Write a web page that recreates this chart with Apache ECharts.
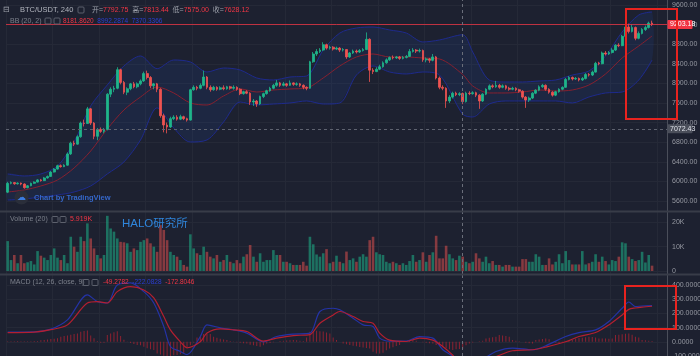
<!DOCTYPE html>
<html><head><meta charset="utf-8">
<script src="https://cdn.jsdelivr.net/npm/echarts/dist/echarts.min.js"></script>
<style>html,body{margin:0;padding:0;background:#1d2130;overflow:hidden}#c{width:700px;height:356px}</style>
</head><body><div id="c"></div>
<script>
// ---- data ----
// candles: [open, close, low, high]
const ohlc = [
[5780,5960,5760,5990],[5960,5975,5940,6000],[5975,5950,5930,5985],[5950,5965,5935,5980],[5965,5945,5920,5975],
[5945,5870,5850,5960],[5870,5910,5860,5925],[5910,5960,5900,5975],[5960,5985,5950,6000],[5985,6030,5975,6045],
[6030,6015,5995,6050],[6015,6070,6005,6090],[6070,6100,6055,6120],[6100,6190,6090,6210],[6190,6250,6180,6270],
[6250,6320,6240,6340],[6320,6300,6280,6345],[6300,6330,6290,6350],[6330,6560,6320,6590],[6560,6780,6540,6810],
[6780,6760,6720,6830],[6760,6910,6750,6940],[6910,7190,6890,7220],[7190,7180,7120,7260],[7180,7480,7170,7520],
[7480,7190,7150,7500],[7190,6920,6860,7210],[6920,7060,6840,7090],[7060,7020,6990,7100],[7020,7060,6980,7090],
[7060,7780,7040,7800],[7780,7880,7720,7920],[7880,7900,7820,7950],[7900,8280,7880,8330],[8280,8020,7980,8300],
[8020,7820,7780,8050],[7820,7890,7760,7920],[7890,7990,7860,8010],[7990,7930,7900,8030],[7930,7990,7900,8020],
[7990,8050,7960,8080],[8050,8200,8030,8240],[8200,8120,8080,8260],[8120,7950,7900,8150],[7950,7990,7880,8010],
[7990,7880,7820,8010],[7880,7340,7300,7900],[7340,7150,7000,7380],[7150,7110,6980,7200],[7110,7280,7090,7320],
[7280,7310,7250,7350],[7310,7270,7240,7350],[7270,7320,7250,7360],[7320,7280,7250,7340],[7280,7250,7220,7300],
[7250,7870,7240,7890],[7870,7920,7850,7960],[7920,7900,7860,7950],[7900,7960,7880,8000],[7960,8130,7940,8260],
[8130,7920,7880,8150],[7920,7870,7830,7960],[7870,7920,7850,7950],[7920,7880,7850,7940],[7880,7910,7860,7940],
[7910,7890,7860,7960],[7890,7930,7870,7950],[7930,7900,7870,7950],[7900,7920,7870,7960],[7920,7880,7850,7940],
[7880,7790,7760,7900],[7790,7830,7770,7850],[7830,7800,7780,7860],[7800,7620,7560,7820],[7620,7640,7540,7680],
[7640,7580,7520,7660],[7580,7730,7560,7750],[7730,7790,7700,7810],[7790,7850,7770,7870],[7850,7900,7830,7930],
[7900,7960,7880,7990],[7960,8010,7930,8070],[8010,7960,7930,8030],[7960,7990,7940,8030],[7990,7960,7930,8010],
[7960,8010,7950,8060],[8010,7980,7950,8020],[7980,7990,7950,8020],[7990,7960,7930,8010],[7960,7920,7880,7980],
[7920,7900,7860,7940],[7900,8440,7890,8460],[8440,8600,8420,8640],[8600,8650,8560,8700],[8650,8680,8620,8720],
[8680,8790,8660,8840],[8790,8720,8690,8810],[8720,8740,8690,8770],[8740,8700,8670,8760],[8700,8720,8680,8750],
[8720,8680,8640,8740],[8680,8690,8650,8720],[8690,8540,8500,8700],[8540,8620,8520,8640],[8620,8660,8600,8690],
[8660,8640,8610,8690],[8640,8670,8620,8700],[8670,8690,8650,8720],[8690,8900,8680,9040],[8900,8270,8030,8920],
[8270,8240,8190,8310],[8240,8290,8230,8330],[8290,8340,8270,8380],[8340,8420,8320,8450],[8420,8480,8400,8510],
[8480,8530,8460,8550],[8530,8520,8490,8570],[8520,8540,8500,8560],[8540,8510,8480,8560],[8510,8530,8490,8560],
[8530,8550,8510,8580],[8550,8650,8540,8700],[8650,8680,8630,8720],[8680,8660,8620,8700],[8660,8670,8630,8710],
[8670,8480,8440,8690],[8480,8500,8430,8530],[8500,8470,8420,8520],[8470,8540,8450,8600],[8540,8110,8080,8560],
[8110,7920,7880,8140],[7920,7900,7860,7960],[7900,7640,7500,7920],[7640,7720,7600,7760],[7720,7800,7690,7830],
[7800,7770,7740,7830],[7770,7790,7740,7820],[7792.75,7628.12,7575.00,7813.44],[7628,7800,7610,7830],[7800,7790,7760,7840],
[7790,7810,7770,7840],[7810,7760,7720,7830],[7760,7640,7480,7780],[7640,7780,7620,7800],[7780,7880,7760,7900],
[7880,7950,7860,7980],[7950,7930,7900,7980],[7930,7960,7910,8050],[7960,7920,7890,7990],[7920,7950,7900,7980],
[7950,7900,7870,7970],[7900,7880,7850,7930],[7880,7900,7860,7930],[7900,7870,7840,7920],[7870,7840,7810,7890],
[7840,7720,7690,7860],[7720,7660,7500,7740],[7660,7700,7620,7730],[7700,7800,7680,7820],[7800,7860,7780,7880],
[7860,7930,7840,7960],[7930,7960,7910,7990],[7960,7880,7850,7980],[7880,7820,7790,7900],[7820,7760,7730,7840],
[7760,7830,7740,7850],[7830,7880,7810,7900],[7880,7920,7860,7940],[7920,8080,7910,8110],[8080,8120,8060,8150],
[8120,8090,8060,8140],[8090,8100,8070,8130],[8100,8070,8040,8120],[8070,8100,8050,8130],[8100,8180,8080,8210],
[8180,8170,8140,8210],[8170,8230,8150,8260],[8230,8410,8220,8440],[8410,8400,8370,8440],[8400,8620,8390,8650],
[8620,8600,8570,8660],[8600,8630,8580,8660],[8630,8680,8610,8720],[8680,8780,8660,8800],[8780,8770,8740,8820],
[8770,8960,8760,8990],[8960,9150,8940,9230],[9150,9060,9020,9220],[9060,9140,9040,9200],[9140,8920,8880,9160],
[8920,9020,8900,9060],[9020,9100,9000,9130],[9100,9140,9070,9180],[9140,9230,9120,9260],[9230,9203.18,9170,9280]
];
// volume in thousands
const volumeK = [
12.3,4.5,6.6,3.2,6.6,3.2,3.6,4.1,2.7,8.2, 6.3,5.5,4.5,6.6,9.3,5.5,4.5,6.6,3.2,14.1,
10.0,7.9,14.1,12.3,19.6,13.4,9.3,6.6,5.2,6.6, 22.7,17.5,16.2,13.4,12.0,11.8,11.4,7.9,9.3,8.6,
12.0,12.7,13.4,11.4,10.0,7.9,18.9,16.9,12.7,7.9, 6.6,5.9,4.5,2.5,1.8,15.1,9.3,7.3,6.6,10.0,
7.9,5.9,5.2,6.6,3.8,4.5,6.6,3.8,3.2,4.5, 3.2,5.9,6.9,10.7,5.9,3.8,7.3,3.8,4.5,4.5,
8.6,6.6,6.6,3.8,3.8,3.2,2.5,2.5,2.5,3.8, 2.2,14.1,11.0,6.8,5.9,7.3,9.0,3.2,3.8,6.3,
3.8,3.2,8.0,4.5,5.2,3.8,5.9,6.9,5.9,12.7, 14.1,7.7,6.9,6.6,3.8,3.2,3.8,3.2,2.5,3.2,
2.5,4.1,6.6,3.8,4.5,7.7,3.8,6.6,7.7,14.5, 5.2,5.2,10.4,6.9,5.2,4.5,6.3,5.919,3.8,3.2,
3.8,7.3,5.2,3.8,5.9,3.2,4.1,2.5,2.5,1.8, 2.5,2.5,1.8,1.8,1.8,4.9,4.9,3.8,3.8,6.9,
5.9,2.5,2.5,5.2,2.7,3.8,6.9,3.2,8.2,4.5, 2.7,2.7,2.7,8.2,2.7,3.2,3.8,6.9,3.8,5.9,
4.1,2.7,4.5,4.1,5.9,11.8,11.4,5.9,4.9,4.1, 4.5,7.9,3.5,6.6,2.2
];
const macdHist = [
3,4,4,5,4,4,3,4,5,6, 10,13,16,19,22,25, 35,40,45,50,55,58, 70,76,80, 45,25,5, -7,-6,
47,58,68,75, 40,15, 2,-8,-15,-23, -25,-35,-45,-52,-58, -82,-90,-98,-105, -100,-95,-93,-88,-82,
-47,-25,-5, 30,35, 55,58,55, 35,28,22,16,12, 6,2,-3,-7,-10,-12, -20,-25,-30,-35, -25,-12,-8,-4,0,
5,7,9,10,12,10,8,6, 30,70,74,77,75,72,66,58, 30,12,0, -12,-18,-22,-27,-32,-37,-41,-44,-47,
-70,-82,-82,-78, -60,-47,-38,-30,-23, 0,6,10,12,8, 0,-4,-7,-10,-12, -23,-30,-38,-45,-52,-58,
-52,-50,-49.2782,-25,-12, -5,0,3,8, 23,28,32,35, 47,45,40,35, 12,8,4,0, -7,-10,-12, 12,16,20,23,18,
0,-6,-12, 2,6,10,12, 23,26,29,32,35,33,30, 23,24,23,22,23, 47,50,53,56,58,50, 35,30, 12,10,7,5
];
// Bollinger bands sampled at candle indices
const bbIdx   = [0,5,10,15,20,25,30,35,40,45,50,55,60,65,70,75,80,85,90,95,100,105,110,115,120,125,130,137,140,145,150,155,160,165,170,175,180,185,190,194];
const bbUpper = [6151,6110,6151,6314,6804,7539,7967,8355,8559,8300,8477,8437,8232,8314,8273,8110,8069,8130,8151,8681,9028,9131,9151,9090,9028,8845,8886,8992.2874,8641,8069,8028,8028,8049,8069,8171,8253,8559,9049,9396,9457];
const bbMid   = [5783,5824,5906,6028,6273,6620,7069,7457,7722,7926,7804,7600,7559,7743,7886,7824,7865,7886,7906,8110,8355,8539,8600,8539,8539,8518,8498,8181.862,7947,7804,7804,7824,7865,7845,7865,7967,8192,8518,8763,8967];
const bbLower = [5620,5640,5681,5722,5783,5906,6151,6396,6845,7500,7090,6804,6845,7212,7620,7559,7579,7600,7641,7579,7600,8171,8355,8232,8192,8232,8171,7370.3366,7314,7579,7641,7641,7641,7641,7600,7722,7804,7824,8069,8477];
// MACD lines sampled at candle indices
const macdIdx    = [0,8,13,18,24,27,30,33,37,41,44,47,49,52,54,58,60,64,68,72,77,81,86,91,94,98,100,104,107,110,112,115,120,124,128,131,134,137,141,144,147,152,158,162,168,172,177,181,185,187,189,191,194];
const macdLine   = [68,70,89,154,330,283,273,400,414,353,273,108,-33,-68,-91,37,119,98,84,61,0,37,54,61,213,236,225,166,119,108,26,5,5,37,26,-56,-105,-222.0828,-160,-110,-68,-44,-56,-28,37,65,84,143,236,280,248,252,255];
const macdSignal = [65,68,85,119,273,283,273,353,388,365,309,178,84,0,-42,0,61,91,84,72,5,26,44,51,131,189,213,178,143,131,61,12,2,26,12,-33,-95,-172.8046,-175,-140,-105,-63,-56,-37,0,37,65,119,189,228,238,244,250];
// axis ticks
const priceTicks = [5600,6000,6400,6800,7200,7600,8000,8400,8800,9200,9600];
const volTicks = [0,10,20];
const macdTicks = [-100,0,100,200,300,400];
const lastPrice = 9203.18;
const crossPrice = 7072.43;
const crossIndex = 137;

// ---- chart ----
const FONT = '"Liberation Sans", Arial, "Noto Sans CJK SC", sans-serif';
const UP = '#1eb58a', DN = '#ef5350';
const cats = []; for (let i = 0; i < ohlc.length + 4; i++) cats.push(String(i));
const pair = (idx, vals) => idx.map((x, k) => [x, vals[k]]);
const chart = echarts.init(document.getElementById('c'), null, {renderer: 'canvas'});
const gBase = {left: 6, right: 33, containLabel: false, outerBoundsMode: 'none'};
const grids = [
  Object.assign({top: 0, height: 211}, gBase),
  Object.assign({top: 212, height: 62}, gBase),
  Object.assign({top: 275, height: 81}, gBase)
];
const xAx = gi => ({type: 'category', gridIndex: gi, data: cats, boundaryGap: true,
  axisLine: {show: false}, axisTick: {show: false}, axisLabel: {show: false},
  splitLine: {show: true, interval: 13, lineStyle: {color: '#252937', width: 1}}});
const yAx = (gi, min, max, ticks, fmt) => ({type: 'value', gridIndex: gi, position: 'right', min, max,
  axisLine: {show: false}, axisTick: {show: false, customValues: ticks},
  axisLabel: {customValues: ticks, formatter: fmt, color: '#9598a1', fontSize: 7, fontFamily: FONT, margin: 5},
  splitLine: {show: true, lineStyle: {color: '#252937', width: 1}}});
const vLine = {xAxis: String(crossIndex), lineStyle: {color: '#6a6e7a', type: [3, 3], width: 1}};
const mlBase = {symbol: ['none', 'none'], silent: true, animation: false, label: {show: false}};

const option = {
  animation: false,
  backgroundColor: '#1d2130',
  grid: grids,
  xAxis: [xAx(0), xAx(1), xAx(2)],
  yAxis: [
    yAx(0, 5395, 9702, priceTicks, v => v.toFixed(2)),
    yAx(1, -1.23, 24.28, volTicks, v => v === 0 ? '0' : v + 'K'),
    yAx(2, -100, 470, macdTicks, v => v.toFixed(4))
  ],
  series: [
    {type: 'custom', xAxisIndex: 0, yAxisIndex: 0, data: [[0, bbMid[0]]], z: 1, silent: true, clip: true,
      renderItem: (params, api) => {
        const pts = [];
        for (let k = 0; k < bbIdx.length; k++) pts.push(api.coord([bbIdx[k], bbUpper[k]]));
        for (let k = bbIdx.length - 1; k >= 0; k--) pts.push(api.coord([bbIdx[k], bbLower[k]]));
        return {type: 'polygon', shape: {points: pts, smooth: 0.25}, style: {fill: 'rgba(33,80,200,0.12)'}};
      }},
    {type: 'line', xAxisIndex: 0, yAxisIndex: 0, data: pair(bbIdx, bbUpper), smooth: 0.3, symbol: 'none', z: 2,
      lineStyle: {color: '#1e2a8c', width: 1}},
    {type: 'line', xAxisIndex: 0, yAxisIndex: 0, data: pair(bbIdx, bbLower), smooth: 0.3, symbol: 'none', z: 2,
      lineStyle: {color: '#1e2a8c', width: 1}},
    {type: 'line', xAxisIndex: 0, yAxisIndex: 0, data: pair(bbIdx, bbMid), smooth: 0.3, symbol: 'none', z: 2,
      lineStyle: {color: '#86202f', width: 1}},
    {type: 'candlestick', xAxisIndex: 0, yAxisIndex: 0, data: ohlc, z: 3, barWidth: 2.2,
      itemStyle: {color: UP, color0: DN, borderColor: UP, borderColor0: DN, borderWidth: 0.8},
      markLine: Object.assign({data: [
        {yAxis: lastPrice, lineStyle: {color: '#f23645', width: 1, type: 'solid', opacity: 0.75}},
        {yAxis: crossPrice, lineStyle: {color: '#5f6370', width: 1, type: [3, 3]}},
        vLine
      ]}, mlBase)},
    {type: 'bar', xAxisIndex: 1, yAxisIndex: 1, data: volumeK, barWidth: '78%',
      itemStyle: {color: p => ohlc[p.dataIndex][1] >= ohlc[p.dataIndex][0] ? 'rgba(30,181,138,0.55)' : 'rgba(239,83,80,0.5)'},
      markLine: Object.assign({data: [vLine]}, mlBase)},
    {type: 'bar', xAxisIndex: 2, yAxisIndex: 2, data: macdHist, barWidth: 1,
      itemStyle: {color: '#8c2231'},
      markLine: Object.assign({data: [vLine]}, mlBase)},
    {type: 'line', xAxisIndex: 2, yAxisIndex: 2, data: pair(macdIdx, macdLine), smooth: 0.3, symbol: 'none', z: 3,
      lineStyle: {color: '#2433a6', width: 1.2}},
    {type: 'line', xAxisIndex: 2, yAxisIndex: 2, data: pair(macdIdx, macdSignal), smooth: 0.3, symbol: 'none', z: 3,
      lineStyle: {color: '#b41f30', width: 1.2}}
  ]
};
chart.setOption(option);

const GREY = '#9da1ab', DGREY = '#7c808b', RED = '#f23645', BLUE = '#2c3fd1';
const T = (x, y, text, fill, size) => ({type: 'text', x, y, z: 100, silent: true,
  style: {text, fill, font: (size || 7) + 'px ' + FONT, textVerticalAlign: 'middle', textAlign: 'left'}});
const R = (x, y, text, size) => ({type: 'text', x, y, z: 100, silent: true,
  style: {text, fill: GREY, font: size + 'px ' + FONT, textVerticalAlign: 'middle', textAlign: 'left',
    rich: {l: {fill: GREY, fontSize: size, fontFamily: FONT}, r: {fill: RED, fontSize: size, fontFamily: FONT},
           b: {fill: BLUE, fontSize: size, fontFamily: FONT}}}});
const box = (x, y) => ({type: 'rect', z: 100, silent: true, shape: {x, y, width: 6, height: 6, r: 1},
  style: {fill: 'none', stroke: '#5d616d', lineWidth: 1}});
const yLast = chart.convertToPixel({yAxisIndex: 0}, lastPrice);
const yCross = chart.convertToPixel({yAxisIndex: 0}, crossPrice);
const gfx = [
  {type: 'line', z: 90, silent: true, shape: {x1: 667.5, y1: 0, x2: 667.5, y2: 356}, style: {stroke: '#4a4e5a', lineWidth: 1}},
  {type: 'line', z: 90, silent: true, shape: {x1: 0, y1: 211.5, x2: 700, y2: 211.5}, style: {stroke: '#383c48', lineWidth: 2}},
  {type: 'line', z: 90, silent: true, shape: {x1: 0, y1: 274.5, x2: 700, y2: 274.5}, style: {stroke: '#383c48', lineWidth: 2}},
  T(3, 10, '⊟', GREY, 8),
  T(20, 10, 'BTC/USDT, 240', '#b2b5be', 7.5),
  box(78, 7),
  R(92, 10, '{l|开=}{r|7792.75}  {l|高=}{r|7813.44}  {l|低=}{r|7575.00}  {l|收=}{r|7628.12}', 7),
  T(10, 21, 'BB (20, 2)', DGREY, 7), box(45, 18), box(54, 18),
  R(63, 21, '{r|8181.8620}  {b|8992.2874}  {b|7370.3366}', 6.5),
  T(10, 219.5, 'Volume (20)', DGREY, 7), box(52, 216.5), box(60, 216.5), T(70, 219.5, '5.919K', RED, 7),
  T(122, 224, 'HALO研究所', '#2f86dc', 11.5),
  T(10, 282.5, 'MACD (12, 26, close, 9)', DGREY, 7), box(83, 279.5), box(92, 279.5),
  R(103, 282.5, '{r|-49.2782}  {b|-222.0828}  {r|-172.8046}', 6.5),
  {type: 'circle', z: 100, silent: true, shape: {cx: 21.5, cy: 197.5, r: 7}, style: {fill: '#2a2e3a'}},
  {type: 'text', x: 21.5, y: 197.5, z: 101, silent: true, style: {text: '☁', fill: '#3b7be0', font: '9px "DejaVu Sans", sans-serif', textAlign: 'center', textVerticalAlign: 'middle'}},
  {type: 'text', x: 34, y: 198, z: 101, silent: true, style: {text: 'Chart by TradingView', fill: '#3567c9', font: 'bold 7.5px ' + FONT, textVerticalAlign: 'middle'}},
  {type: 'rect', z: 110, silent: true, shape: {x: 667.5, y: yLast - 4.5, width: 25, height: 9, r: 1}, style: {fill: RED}},
  {type: 'text', x: 670, y: yLast, z: 112, silent: true, style: {text: lastPrice.toFixed(2), fill: '#ffffff', font: '7px ' + FONT, textVerticalAlign: 'middle'}},
  {type: 'rect', z: 110, silent: true, shape: {x: 667.5, y: yCross - 4.5, width: 25, height: 9, r: 1}, style: {fill: '#4a4e5a'}},
  {type: 'text', x: 670, y: yCross, z: 112, silent: true, style: {text: crossPrice.toFixed(2), fill: '#e0e3eb', font: '7px ' + FONT, textVerticalAlign: 'middle'}},
  {type: 'rect', z: 120, silent: true, shape: {x: 626, y: 9, width: 51, height: 110}, style: {fill: 'none', stroke: '#e8231f', lineWidth: 2}},
  {type: 'rect', z: 120, silent: true, shape: {x: 625, y: 286, width: 51, height: 43}, style: {fill: 'none', stroke: '#e8231f', lineWidth: 2}}
];
chart.setOption({graphic: gfx});
</script>
</body></html>
